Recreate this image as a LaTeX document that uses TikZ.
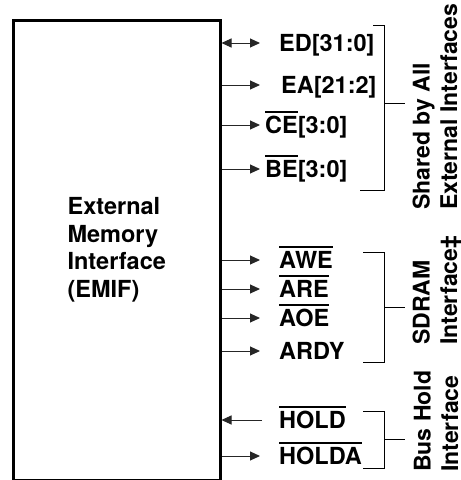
\documentclass[tikz,border=0pt]{standalone}
\usepackage{fontspec}
\setmainfont{TeX Gyre Heros}
\usetikzlibrary{arrows.meta,positioning}
\newcommand\ovl[1]{\setbox0\hbox{#1}\rlap{\rule[0.86em]{\wd0}{1.8pt}}\box0}

\begin{document}
\begin{tikzpicture}[x=1pt, y=-1pt,
  every node/.style = {font=\fontsize{23.5}{27.5}\selectfont\bfseries, inner sep=0pt},
  lbl/.style = {anchor=west, text height=20pt, text depth=4pt},
  sig/.style = {draw=black!85, line width=1pt, -{Triangle[length=10pt,width=9pt]}},
  brk/.style = {draw, line width=0.9pt},
  side/.style = {rotate=90, anchor=west, align=left,
    font=\fontsize{23}{27.5}\selectfont\bfseries}
]
\useasboundingbox (0,0) rectangle (461,480);
\node[draw, line width=3pt, minimum width=206.5pt, minimum height=460pt, align=left]
  (emif) at (116.75,250) {External\\Memory\\Interface\\(EMIF)};
\coordinate (tip) at (260,0);

% shared signals
\node[lbl] (ed) at (279,43) {ED[31:0]};
\node[lbl] (ea) at (281,85) {EA[21:2]};
\node[lbl] (ce) at (265,125) {\ovl{CE}[3:0]};
\node[lbl] (be) at (265,169) {\ovl{BE}[3:0]};
% sdram
\node[lbl] (awe) at (279,260) {\ovl{AWE}};
\node[lbl] (are) at (279,289) {\ovl{ARE}};
\node[lbl] (aoe) at (279,318) {\ovl{AOE}};
\node[lbl] (ardy) at (279,351) {ARDY};
% bus hold
\node[lbl] (hold) at (279,420) {\ovl{HOLD}};
\node[lbl] (holda) at (279,456) {\ovl{HOLDA}};

\draw[sig, {Triangle[length=10pt,width=9pt]}-{Triangle[length=10pt,width=9pt]}]
  (emif.east |- ed) -- (tip |- ed);
\foreach \s in {ea, ce, be, awe, are, aoe, ardy, holda}
  \draw[sig] (emif.east |- \s) -- (tip |- \s);
\draw[sig] ([xshift=2pt]tip |- hold) -- (emif.east |- hold);

% brackets
\draw[brk] (373,25) -| (384,190) -- (360,190) (384,103) -- (405,103);
\draw[brk] (363,252) -| (384,362) -- (363,362) (384,307) -- (405,307);
\draw[brk] (363,411) -| (384,468) -- (363,468) (384,439) -- (405,439);

\node[side] (shared) at (435,210) {Shared by All\\External Interfaces};
\node[side] (sdram) at (437,345) {SDRAM\\Interface‡};
\node[side] (bushold) at (436,472) {Bus Hold\\Interface};
\end{tikzpicture}
\end{document}
